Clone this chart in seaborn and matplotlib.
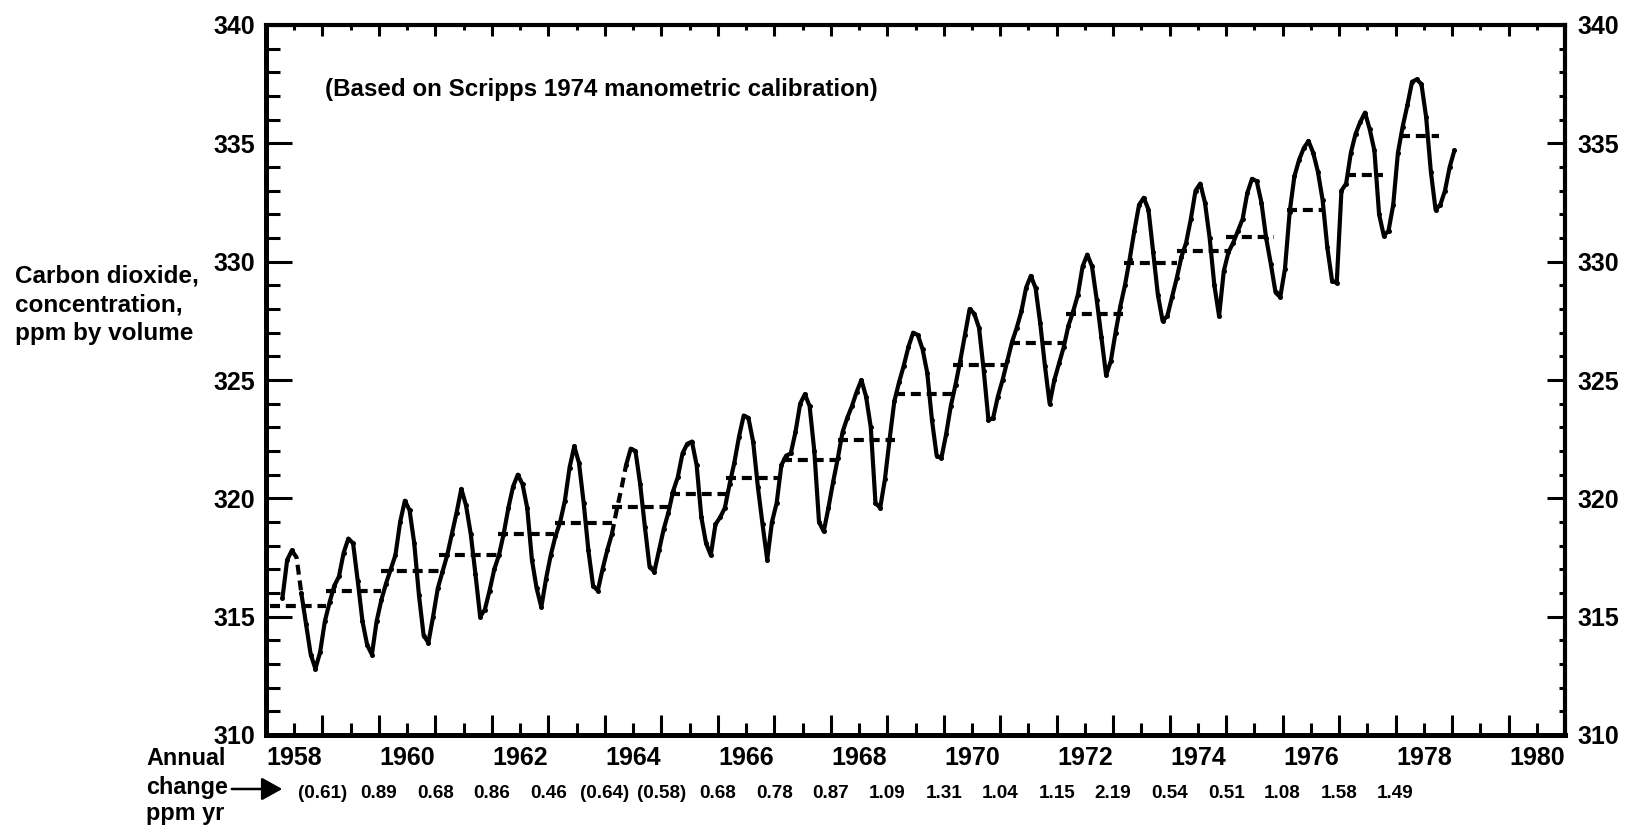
import numpy as np
import pandas as pd
import matplotlib
matplotlib.use("Agg")
import matplotlib.pyplot as plt
import matplotlib.transforms as mtransforms
from matplotlib.ticker import MultipleLocator
from matplotlib import font_manager
import seaborn as sns

# ---------------------------------------------------------------------------
# Monthly mean CO2 at Mauna Loa (ppm), Jan..Dec of each year
# ---------------------------------------------------------------------------
years = list(range(1958, 1979))

co2_monthly = {
    1958: [np.nan, np.nan, 315.8, 317.4, 317.8, 317.5, 316.0, 314.7, 313.4, 312.8, 313.5, 314.8],
    1959: [315.6, 316.3, 316.7, 317.7, 318.3, 318.1, 316.5, 314.8, 313.8, 313.4, 314.8, 315.7],
    1960: [316.4, 317.0, 317.6, 319.0, 319.9, 319.5, 318.1, 315.9, 314.2, 313.9, 315.0, 316.2],
    1961: [316.9, 317.6, 318.5, 319.4, 320.4, 319.7, 318.5, 316.8, 315.0, 315.3, 316.1, 317.0],
    1962: [317.6, 318.5, 319.6, 320.5, 321.0, 320.6, 319.6, 317.4, 316.2, 315.4, 316.6, 317.6],
    1963: [318.4, 319.0, 319.9, 321.3, 322.2, 321.5, 319.8, 317.8, 316.3, 316.1, 317.0, 317.8],
    1964: [318.5, 319.5, 320.4, 321.4, 322.1, 322.0, 320.6, 318.8, 317.1, 316.9, 317.8, 318.7],
    1965: [319.4, 320.3, 320.9, 321.9, 322.3, 322.4, 321.4, 319.2, 318.1, 317.6, 318.9, 319.2],
    1966: [319.6, 320.6, 321.5, 322.6, 323.5, 323.4, 322.4, 320.5, 318.9, 317.4, 319.0, 319.8],
    1967: [321.4, 321.8, 321.9, 322.8, 324.0, 324.4, 323.9, 322.0, 319.0, 318.6, 319.6, 320.7],
    1968: [321.7, 322.8, 323.4, 323.9, 324.5, 325.0, 324.3, 323.0, 319.8, 319.6, 320.8, 322.5],
    1969: [324.1, 324.9, 325.6, 326.4, 327.0, 326.9, 326.3, 325.3, 323.3, 321.8, 321.7, 322.7],
    1970: [323.9, 324.8, 325.8, 326.9, 328.0, 327.8, 327.2, 325.4, 323.3, 323.4, 324.3, 325.0],
    1971: [325.8, 326.6, 327.2, 327.9, 328.9, 329.4, 328.9, 327.4, 325.6, 324.0, 325.0, 325.7],
    1972: [326.4, 327.3, 327.9, 328.6, 329.8, 330.3, 329.8, 328.4, 326.8, 325.2, 325.8, 327.0],
    1973: [328.1, 329.0, 330.1, 331.3, 332.4, 332.7, 332.2, 330.4, 328.6, 327.5, 327.7, 328.5],
    1974: [329.3, 330.2, 330.8, 331.8, 333.0, 333.3, 332.5, 331.0, 329.0, 327.7, 329.6, 330.4],
    1975: [330.8, 331.3, 331.8, 332.9, 333.5, 333.4, 332.5, 331.0, 329.9, 328.7, 328.5, 329.7],
    1976: [332.1, 333.6, 334.3, 334.8, 335.1, 334.6, 333.8, 332.6, 330.6, 329.2, 329.1, 333.0],
    1977: [333.3, 334.6, 335.4, 335.9, 336.3, 335.6, 334.7, 332.0, 331.1, 331.3, 332.4, 334.6],
    1978: [335.7, 336.6, 337.6, 337.7, 337.5, 336.1, 333.8, 332.2, 332.4, 333.0, 334.0, 334.7],
}

# months filled by interpolation (drawn dashed)
interpolated = [(1958, 6), (1964, 2), (1964, 3)]

# annual means and the span over which each is drawn
annual_mean = [315.45, 316.1, 316.95, 317.6, 318.5, 318.95, 319.65, 320.2, 320.85, 321.63,
               322.48, 324.4, 325.64, 326.58, 327.8, 329.96, 330.45, 331.03, 332.18, 333.67, 335.32]
mean_from = [1958.07, 1959.07, 1960.04, 1961.07, 1962.10, 1963.12, 1964.12, 1965.15, 1966.15, 1967.14,
             1968.13, 1969.14, 1970.17, 1971.17, 1972.17, 1973.20, 1974.13, 1975.00, 1976.07, 1977.12, 1978.07]
mean_to = [1959.07, 1960.04, 1961.07, 1962.10, 1963.10, 1964.12, 1965.18, 1966.18, 1967.12, 1968.10,
           1969.14, 1970.17, 1971.14, 1972.17, 1973.17, 1974.13, 1975.04, 1975.84, 1976.75, 1977.77, 1978.77]

# annual change, ppm per year (parenthesised values are provisional)
change_years = list(range(1959, 1979))
annual_change = [0.61, 0.89, 0.68, 0.86, 0.46, 0.64, 0.58, 0.68, 0.78, 0.87,
                 1.09, 1.31, 1.04, 1.15, 2.19, 0.54, 0.51, 1.08, 1.58, 1.49]
change_bracketed = [True, False, False, False, False, True, True, False, False, False,
                    False, False, False, False, False, False, False, False, False, False]

x_tick_years = list(range(1958, 1982))
x_label_years = list(range(1958, 1981, 2))
y_major = list(range(310, 341, 5))

# ---------------------------------------------------------------------------
# Tidy tables
# ---------------------------------------------------------------------------
rows = []
for yr in years:
    for m, v in enumerate(co2_monthly[yr], start=1):
        if np.isnan(v):
            continue
        rows.append({"t": yr + (m + 0.5) / 12.0, "co2": v,
                     "interp": (yr, m) in interpolated})
df = pd.DataFrame(rows).reset_index(drop=True)
df["seg"] = (df["interp"] != df["interp"].shift()).cumsum()
solid = df[~df["interp"]]

# dashed bridges across interpolated runs (include the neighbouring points)
bridges = []
for k, (seg, grp) in enumerate(df[df["interp"]].groupby("seg")):
    lo = max(grp.index.min() - 1, 0)
    hi = min(grp.index.max() + 1, len(df) - 1)
    part = df.loc[lo:hi, ["t", "co2"]].copy()
    part["run"] = k
    bridges.append(part)
bridges = pd.concat(bridges, ignore_index=True)

means = pd.DataFrame(
    [{"t": a, "co2": v, "year": y} for y, a, b, v in zip(years, mean_from, mean_to, annual_mean)]
    + [{"t": b, "co2": v, "year": y} for y, a, b, v in zip(years, mean_from, mean_to, annual_mean)]
)

# ---------------------------------------------------------------------------
# Style
# ---------------------------------------------------------------------------
sns.set_theme(style="white")
names = {f.name for f in font_manager.fontManager.ttflist}
base_font = "Liberation Sans" if "Liberation Sans" in names else "DejaVu Sans"
plt.rcParams["font.family"] = [base_font, "DejaVu Sans"]
plt.rcParams["font.weight"] = "bold"
plt.rcParams["text.color"] = "black"
plt.rcParams["xtick.color"] = "black"
plt.rcParams["ytick.color"] = "black"

W_PX, H_PX = 1640, 834
fig = plt.figure(figsize=(W_PX / 100, H_PX / 100), dpi=100)
fig.patch.set_facecolor("white")

L, R, T, B = 266, 1565, 25, 735
ax = fig.add_axes([L / W_PX, 1 - B / H_PX, (R - L) / W_PX, (B - T) / H_PX])
ax.set_facecolor("white")

LW = 3.0
dash = (0, (2.4, 1.4))

sns.lineplot(data=solid, x="t", y="co2", units="seg", estimator=None, color="black",
             lw=LW, marker="o", markersize=3.6, markeredgecolor="black",
             markeredgewidth=0, legend=False, ax=ax)
sns.lineplot(data=bridges, x="t", y="co2", units="run", estimator=None, color="black",
             lw=LW, linestyle=dash, legend=False, ax=ax)
sns.lineplot(data=means, x="t", y="co2", units="year", estimator=None, color="black",
             lw=LW, linestyle=dash, legend=False, ax=ax)

ax.set_xlim(1958, 1981)
ax.set_ylim(310, 340)
ax.set_xlabel("")
ax.set_ylabel("")

FS = 18
# left axis
ax.set_yticks(y_major, labels=[str(v) for v in y_major])
ax.yaxis.set_minor_locator(MultipleLocator(1))
ax.tick_params(axis="y", which="major", direction="in", length=18.5, width=2.2,
               labelsize=FS, pad=8, left=True, right=False)
ax.tick_params(axis="y", which="minor", direction="in", length=10, width=2.2,
               left=True, right=False)

# bottom axis: long ticks on year boundaries, short ticks mid-year carry the labels
ax.set_xticks(x_tick_years, labels=[""] * len(x_tick_years))
half_years = [y + 0.5 for y in x_tick_years[:-1]]
ax.set_xticks(half_years,
              labels=[str(int(h)) if int(h) in x_label_years else "" for h in half_years],
              minor=True)
ax.tick_params(axis="x", which="major", direction="in", length=14.5, width=2.2,
               bottom=True, top=False)
ax.tick_params(axis="x", which="minor", direction="in", length=8.5, width=2.2,
               labelsize=FS, pad=8, bottom=True, top=False)

for lab in ax.get_xticklabels(minor=True) + ax.get_yticklabels():
    lab.set_fontweight("bold")

for side, w in [("left", 3.6), ("bottom", 3.6), ("top", 3.0), ("right", 3.0)]:
    ax.spines[side].set_visible(True)
    ax.spines[side].set_linewidth(w)
    ax.spines[side].set_color("black")

# right axis
sec_y = ax.secondary_yaxis("right")
sec_y.set_yticks(y_major, labels=[str(v) for v in y_major])
sec_y.yaxis.set_minor_locator(MultipleLocator(1))
sec_y.tick_params(axis="y", which="major", direction="in", length=13, width=2.2,
                  labelsize=FS, pad=9)
sec_y.tick_params(axis="y", which="minor", direction="in", length=4.5, width=2.2)
for lab in sec_y.get_yticklabels():
    lab.set_fontweight("bold")
for s in sec_y.spines.values():
    s.set_visible(False)

# top axis
sec_x = ax.secondary_xaxis("top")
sec_x.set_xticks(x_tick_years, labels=[""] * len(x_tick_years))
sec_x.set_xticks(half_years, labels=[""] * len(half_years), minor=True)
sec_x.tick_params(axis="x", which="major", direction="in", length=8, width=2.2)
sec_x.tick_params(axis="x", which="minor", direction="in", length=3.8, width=2.2)
for s in sec_x.spines.values():
    s.set_visible(False)

# annual change row under the year labels
trans = mtransforms.blended_transform_factory(ax.transData, ax.transAxes)
y_change = -(793 - B) / (B - T)
for yr, val, br in zip(change_years, annual_change, change_bracketed):
    txt = f"{val:.2f}"
    if br:
        txt = f"({txt})"
    ax.text(yr, y_change, txt, transform=trans, ha="center", va="center",
            fontsize=13.6, fontweight="bold", clip_on=False)

def fx(px):
    return px / W_PX

def fy(py):
    return 1 - py / H_PX

# axis title on the left
for line, yb in [("Carbon dioxide,", 283), ("concentration,", 311.5), ("ppm by volume", 340)]:
    fig.text(fx(15), fy(yb), line, ha="left", va="baseline", fontsize=17.5, fontweight="bold")

# calibration note
fig.text(fx(325), fy(96), "(Based on Scripps 1974 manometric calibration)", ha="left",
         va="baseline", fontsize=17.4, fontweight="bold")

# annual change caption with arrow
fig.text(fx(146), fy(765), "Annual", ha="left", va="baseline", fontsize=16.8, fontweight="bold")
fig.text(fx(146), fy(794), "change", ha="left", va="baseline", fontsize=16.8, fontweight="bold")
fig.text(fx(146), fy(820), "ppm yr", ha="left", va="baseline", fontsize=16.8, fontweight="bold")
fig.add_artist(matplotlib.patches.FancyArrowPatch(
    (fx(229), fy(789)), (fx(285), fy(789)), transform=fig.transFigure,
    arrowstyle="-|>,head_length=9,head_width=5", mutation_scale=1.4,
    color="black", lw=1.8))

fig.savefig("out.png", dpi=100, facecolor="white")
